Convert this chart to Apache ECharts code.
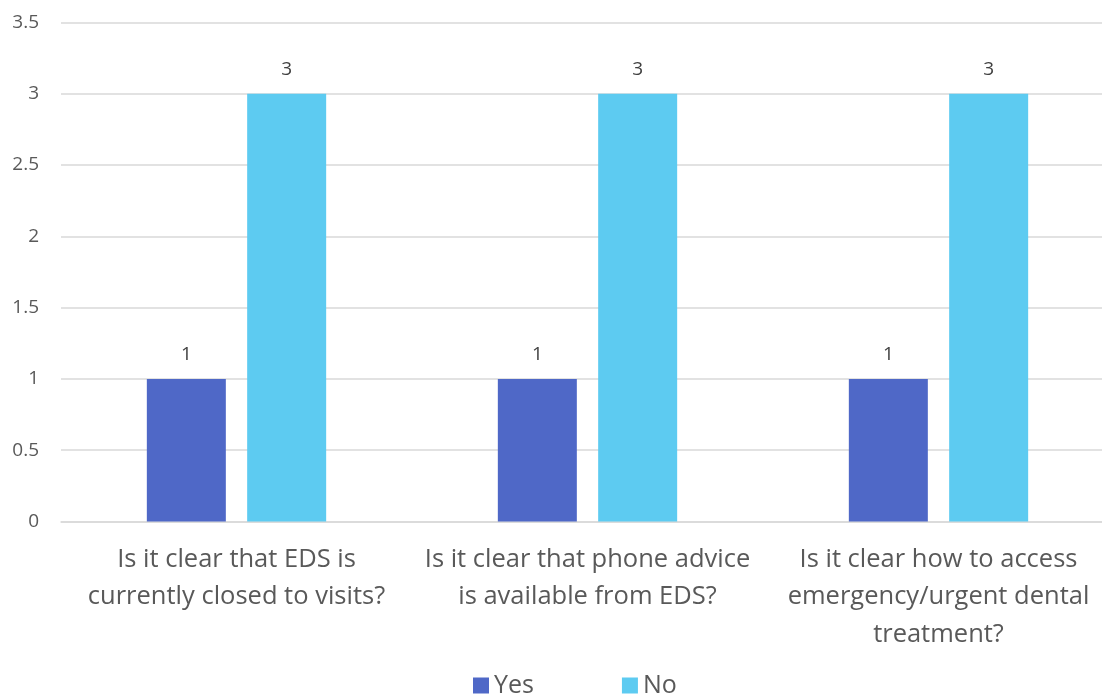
<!DOCTYPE html>
<html>
<head>
<meta charset="utf-8">
<script src="https://cdn.jsdelivr.net/npm/echarts@6/dist/echarts.min.js"></script>
<style>
html,body{margin:0;padding:0;background:#fff;}
#chart{width:1102px;height:695px;}
</style>
</head>
<body>
<div id="chart"></div>
<script>
const categories = [
  "Is it clear that EDS is\ncurrently closed to visits?",
  "Is it clear that phone advice\nis available from EDS?",
  "Is it clear how to access\nemergency/urgent dental\ntreatment?"
];
const yesValues = [1, 1, 1];
const noValues = [3, 3, 3];
const seriesNames = ["Yes", "No"];

const font = "'Open Sans', 'Liberation Sans', sans-serif";
const chart = echarts.init(document.getElementById('chart'), null, {renderer: 'canvas'});
const labelStyle = {show: true, position: 'top', distance: 15, color: '#404040', fontSize: 19, fontFamily: font};
chart.setOption({
  animation: false,
  backgroundColor: '#ffffff',
  grid: {left: 61, right: -12, top: 22.5, bottom: 173.5, containLabel: false, outerBoundsMode: 'none'},
  legend: {
    bottom: -8, left: 468,
    itemWidth: 16, itemHeight: 16, itemGap: 88,
    icon: 'rect',
    textStyle: {color: '#595959', fontSize: 25, fontFamily: font},
    data: seriesNames
  },
  xAxis: {
    type: 'category',
    data: categories,
    axisLine: {show: true, lineStyle: {color: '#d9d9d9', width: 1.5}},
    axisTick: {show: false},
    axisLabel: {color: '#595959', fontSize: 25.5, fontFamily: font, lineHeight: 37.5, margin: 19, interval: 0}
  },
  yAxis: {
    type: 'value', min: 0, max: 3.5, interval: 0.5,
    axisLine: {show: false}, axisTick: {show: false},
    splitLine: {lineStyle: {color: '#d9d9d9', width: 1.5}},
    axisLabel: {color: '#595959', fontSize: 19, fontFamily: font, margin: 22}
  },
  series: [
    {name: seriesNames[0], type: 'bar', data: yesValues, barWidth: 79, barGap: '27%',
     itemStyle: {color: '#4f68c7'}, label: labelStyle},
    {name: seriesNames[1], type: 'bar', data: noValues, barWidth: 79,
     itemStyle: {color: '#5dcbf1'}, label: labelStyle}
  ]
});
</script>
</body>
</html>
